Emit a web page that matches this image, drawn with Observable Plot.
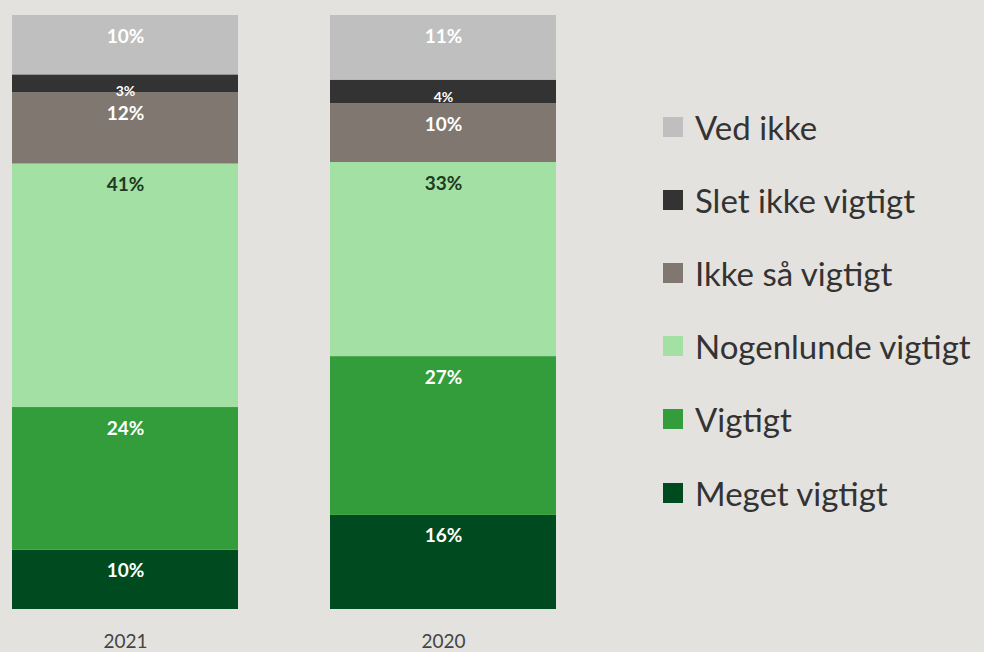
<!DOCTYPE html>
<html>
<head>
<meta charset="utf-8">
<script src="https://cdn.jsdelivr.net/npm/d3@7"></script>
<script src="https://cdn.jsdelivr.net/npm/@observablehq/plot@0.6"></script>
<style>
  html, body { margin: 0; padding: 0; background: #e4e2de; }
  #wrap { position: relative; width: 984px; height: 652px; background: #e4e2de; font-family: Lato, "Noto Sans", sans-serif; }
  #legend { position: absolute; left: 663px; top: 90px; }
  .item { display: flex; align-items: center; height: 73.2px; font-size: 33px; color: #333; white-space: nowrap; }
  .sw { width: 20px; height: 20px; margin-right: 12px; flex: none; }
</style>
</head>
<body>
<div id="wrap"></div>
<script>
const years = ["2021", "2020"];
const categories = ["Meget vigtigt", "Vigtigt", "Nogenlunde vigtigt", "Ikke så vigtigt", "Slet ikke vigtigt", "Ved ikke"];
const colors = ["#004a1f", "#339d3b", "#a2e0a4", "#807870", "#333333", "#c0bfbf"];
const values2021 = [10, 24, 41, 12, 3, 10];
const values2020 = [16, 27, 33, 10, 4, 11];
const legendOrder = ["Ved ikke", "Slet ikke vigtigt", "Ikke så vigtigt", "Nogenlunde vigtigt", "Vigtigt", "Meget vigtigt"];

const data = [];
categories.forEach((c, i) => {
  data.push({year: "2021", cat: c, value: values2021[i]});
  data.push({year: "2020", cat: c, value: values2020[i]});
});

const small = d => d.value < 5;
const darkText = d => d.cat === "Nogenlunde vigtigt";
const label = d => d.value + "%";
const stackOpts = {x: "year", y: "value", z: "cat", order: categories, offset: "normalize"};

const chart = Plot.plot({
  width: 984,
  height: 652,
  marginTop: 15,
  marginBottom: 43,
  marginLeft: 11,
  marginRight: 427,
  style: {background: "transparent", fontFamily: "Lato, 'Noto Sans', sans-serif"},
  x: {domain: years, paddingInner: 0.288, paddingOuter: 0, label: null},
  y: {domain: [0, 1], axis: null},
  color: {domain: categories, range: colors},
  marks: [
    Plot.barY(data, Plot.stackY({...stackOpts, fill: "cat"})),
    Plot.text(data, Plot.stackY2({...stackOpts,
      text: d => (!small(d) && !darkText(d)) ? label(d) : null,
      fill: "white", fontSize: 19, fontWeight: "bold", dy: 21})),
    Plot.text(data, Plot.stackY2({...stackOpts,
      text: d => (!small(d) && darkText(d)) ? label(d) : null,
      fill: "#1e3a22", fontSize: 19, fontWeight: "bold", dy: 21})),
    Plot.text(data, Plot.stackY2({...stackOpts,
      text: d => small(d) ? label(d) : null,
      fill: "white", fontSize: 14, fontWeight: "bold", dy: 17})),
    Plot.axisX({tickSize: 0, tickPadding: 25, fontSize: 19, color: "#444", label: null})
  ]
});

const wrap = document.getElementById("wrap");
wrap.appendChild(chart);

const legend = document.createElement("div");
legend.id = "legend";
legendOrder.forEach(c => {
  const item = document.createElement("div");
  item.className = "item";
  const sw = document.createElement("span");
  sw.className = "sw";
  sw.style.background = colors[categories.indexOf(c)];
  const t = document.createElement("span");
  t.textContent = c;
  item.appendChild(sw);
  item.appendChild(t);
  legend.appendChild(item);
});
wrap.appendChild(legend);
</script>
</body>
</html>
